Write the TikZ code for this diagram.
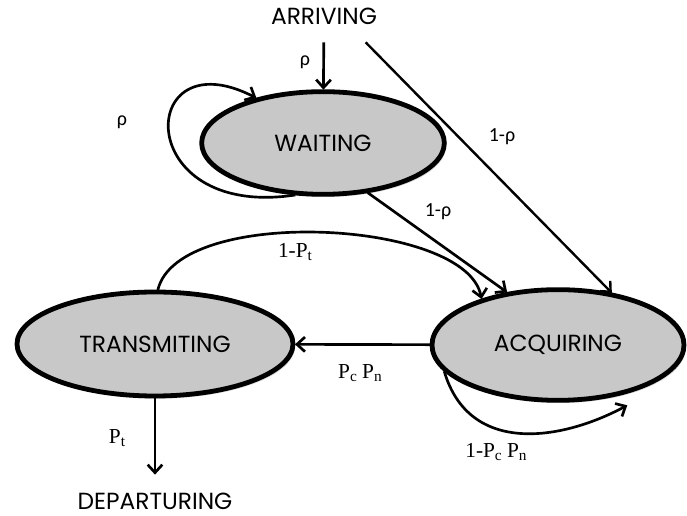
\documentclass[tikz,border=0pt]{standalone}
\usepackage{fontspec}
\setmainfont{Liberation Serif}
\newfontfamily\statefont{Poppins}
\newfontfamily\probfont{Carlito}
\usetikzlibrary{arrows.meta}
\usetikzlibrary{shapes.geometric}
\usetikzlibrary{shadows}
\definecolor{stategray}{RGB}{200,200,200}
\newcommand{\lowsub}[1]{\raisebox{-0.35ex}{\fontsize{11.5}{12}\selectfont #1}}

\begin{document}
\begin{tikzpicture}[x=0.75pt, y=-0.75pt,
    >={Straight Barb[length=6pt,width=11pt]},
    state/.style = {ellipse, draw=black, line width=3.6pt, fill=stategray,
                    outer sep=1.5pt, font=\statefont\fontsize{17.5}{20}\selectfont,
                    drop shadow={shadow xshift=1.5pt, shadow yshift=-2pt, opacity=.3}},
    terminal/.style = {font=\statefont\fontsize{17.5}{20}\selectfont},
    prob/.style = {font=\probfont\fontsize{15}{17}\selectfont},
    pr/.style = {font=\fontsize{16}{18}\selectfont}]
  \useasboundingbox (0,0) rectangle (687,516);

  \node (arriving) [terminal] at (324,16) {ARRIVING};
  \node (waiting) [state, minimum width=182pt, minimum height=77pt] at (323,143) {WAITING};
  \node (transmiting) [state, minimum width=207pt, minimum height=78pt] at (155,344) {TRANSMITING};
  \node (acquiring) [state, minimum width=189pt, minimum height=83pt] at (558,345) {ACQUIRING};
  \node (departuring) [terminal] at (155,501) {DEPARTURING};

  % transition probabilities
  \node (rhoin) [prob] at (305,62) {ρ};
  \node (rhoself) [prob] at (122,122) {ρ};
  \node (rhodirect) [prob] at (502,137) {1-ρ};
  \node (rhowait) [prob] at (438,212) {1-ρ};
  \node (retry) [pr] at (295,252) {1-P\lowsub{t}};
  \node (success) [pr] at (360,373) {P\lowsub{c} P\lowsub{n}};
  \node (fail) [pr] at (496,452) {1-P\lowsub{c} P\lowsub{n}};
  \node (done) [pr] at (117,438) {P\lowsub{t}};

  \path[->, line width=2pt]
    (arriving) edge[shorten <=10pt] (waiting)
    (waiting.-48) edge (acquiring.134)
    (acquiring) edge (transmiting)
    (transmiting) edge[shorten >=10pt] (departuring);

  \draw[->, line width=1.8pt] ([xshift=-12pt,yshift=-10pt]arriving.south east) -- (acquiring.44);

  % loops and the bent retry edge
  \draw[->, line width=2pt] (waiting.-118) .. controls +(-165,25) and +(-120,-62) .. (waiting.146);
  \draw[->, line width=2pt] (transmiting.87) .. controls +(20,-85) and +(-15,-80) .. (acquiring.149);
  \draw[->, line width=2pt] (acquiring.193) .. controls +(25,85) and +(-65,35) .. ([xshift=8pt,yshift=-7pt]acquiring.-41);
\end{tikzpicture}
\end{document}
